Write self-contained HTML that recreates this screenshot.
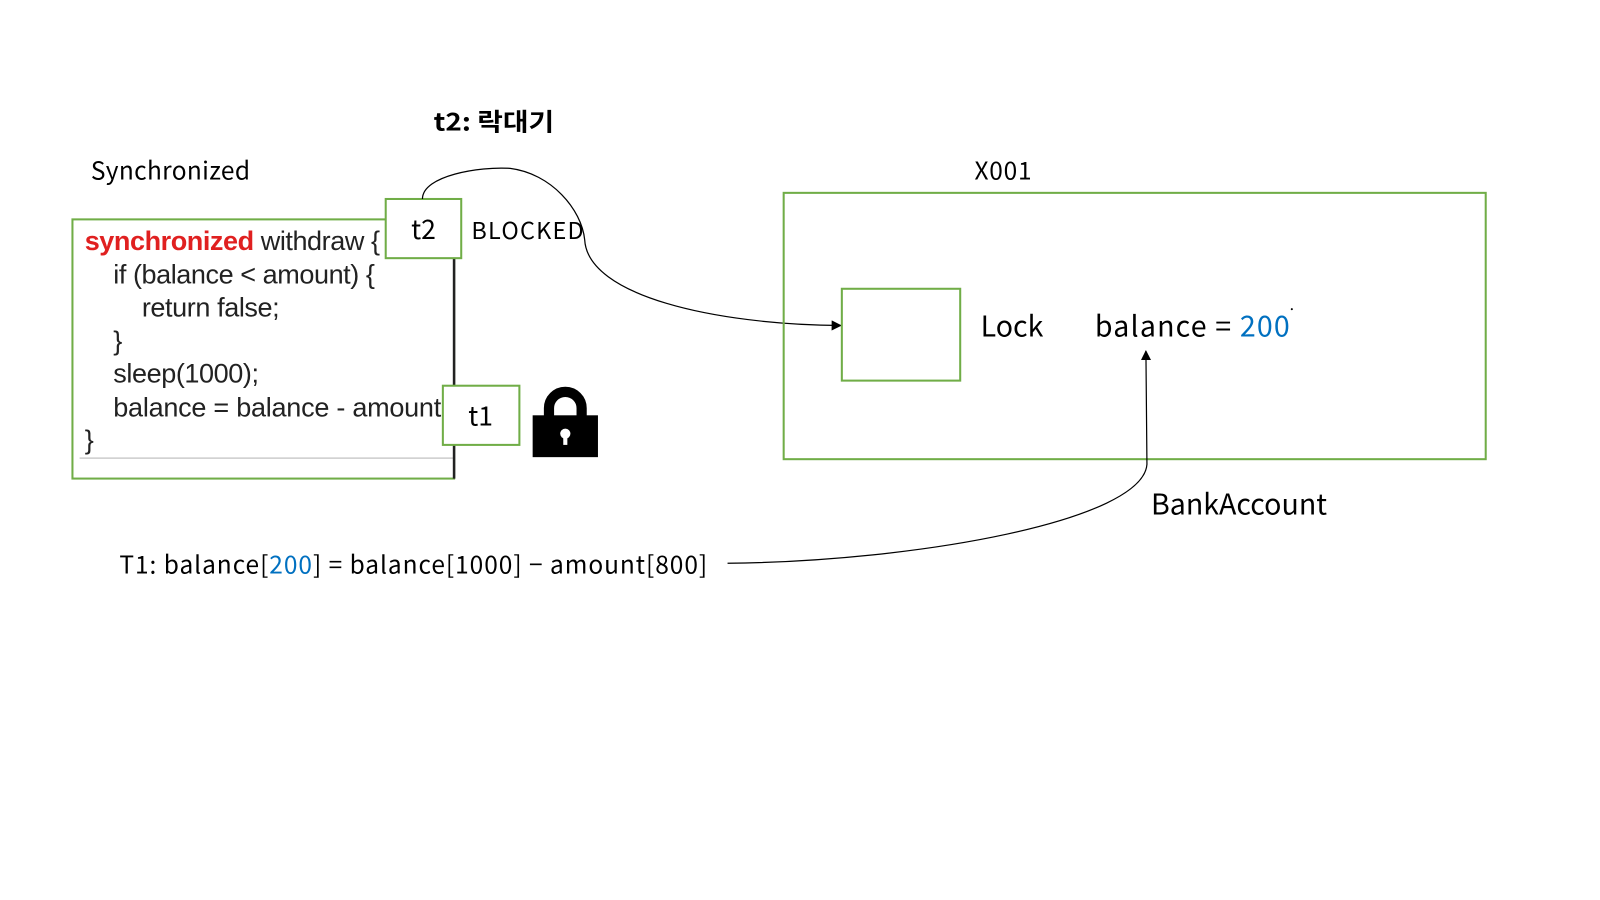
<!DOCTYPE html>
<html><head><meta charset="utf-8"><style>
html,body{margin:0;padding:0;background:#fff;}
svg{display:block}
.k{font-family:"Noto Sans CJK KR","DejaVu Sans",sans-serif;fill:#000}
.c{font-family:"Liberation Sans",Arial,sans-serif;fill:#222;font-size:26.5px;letter-spacing:-0.4px}
</style></head><body>
<svg width="1600" height="900" viewBox="0 0 1568 882" xmlns="http://www.w3.org/2000/svg">
<defs><marker id="a" markerWidth="10" markerHeight="10" refX="9" refY="5" orient="auto" markerUnits="userSpaceOnUse"><path d="M0,0 L10,5 L0,10 z" fill="#000"/></marker></defs>
<text x="425" y="128" class="k" font-size="24" font-weight="bold" textLength="118" lengthAdjust="spacingAndGlyphs">t2: 락대기</text>
<text x="89" y="176" class="k" font-size="24" textLength="156">Synchronized</text>
<rect x="71" y="215" width="374" height="254" fill="#fff" stroke="#70ad47" stroke-width="2"/>
<line x1="78" y1="449" x2="445" y2="449" stroke="#ccc" stroke-width="1.5"/>
<line x1="445" y1="253" x2="445" y2="469" stroke="#222" stroke-width="2.5"/>
<text x="83" y="245" class="c" textLength="289"><tspan fill="#e02020" font-weight="bold">synchronized</tspan> withdraw {</text>
<text x="111" y="278" class="c" textLength="256">if (balance &lt; amount) {</text>
<text x="139" y="310" class="c">return false;</text>
<text x="111" y="343" class="c">}</text>
<text x="111" y="375" class="c">sleep(1000);</text>
<text x="111" y="408" class="c" textLength="321">balance = balance - amount</text>
<text x="83" y="440" class="c">}</text>
<rect x="378" y="195" width="74" height="58" fill="#fff" stroke="#70ad47" stroke-width="2"/>
<text x="415" y="234" class="k" font-size="26" text-anchor="middle">t2</text>
<text x="462" y="234" class="k" font-size="23" textLength="110">BLOCKED</text>
<rect x="434" y="378" width="75" height="58" fill="#fff" stroke="#70ad47" stroke-width="2"/>
<text x="471" y="417" class="k" font-size="26" text-anchor="middle">t1</text>
<path d="M538,408 V400 A16,16 0 0 1 570,400 V408" fill="none" stroke="#000" stroke-width="10"/>
<rect x="522" y="407" width="64" height="41" fill="#000"/>
<circle cx="554" cy="425" r="5" fill="#fff"/><rect x="552" y="425" width="4" height="11" fill="#fff"/>
<path d="M414,195 C414,172 470,163 500,165 C540,170 570,205 573,235 C576,290 700,318 824,319" fill="none" stroke="#000" stroke-width="1.2" marker-end="url(#a)"/>
<text x="955" y="176" class="k" font-size="24" textLength="56">X001</text>
<rect x="768" y="189" width="688" height="261" fill="none" stroke="#70ad47" stroke-width="2"/>
<rect x="825" y="283" width="116" height="90" fill="none" stroke="#70ad47" stroke-width="2"/>
<text x="961" y="330" class="k" font-size="28">Lock</text>
<text x="1073" y="330" class="k" font-size="28" textLength="191">balance = <tspan fill="#0070c0">200</tspan></text>
<circle cx="1266" cy="303" r="1" fill="#000"/>
<text x="1128" y="504" class="k" font-size="28">BankAccount</text>
<text x="117" y="562" class="k" font-size="24" textLength="576">T1: balance[<tspan fill="#0070c0">200</tspan>] = balance[1000] − amount[800]</text>
<path d="M713,552 C900,550 1120,510 1124,455 L1123,344" fill="none" stroke="#000" stroke-width="1.2" marker-end="url(#a)"/>
</svg>
</body></html>
